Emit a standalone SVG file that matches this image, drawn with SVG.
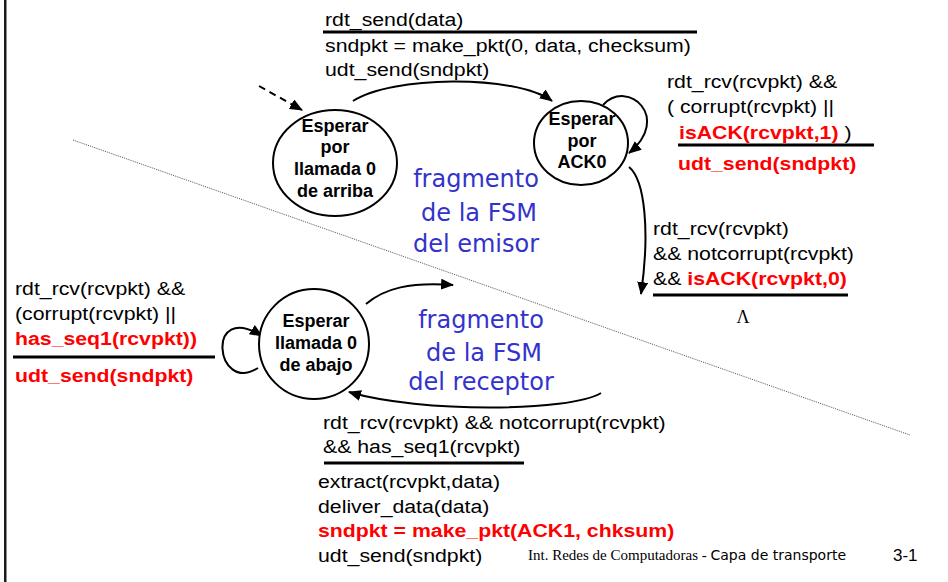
<svg xmlns="http://www.w3.org/2000/svg" width="948" height="582" viewBox="0 0 948 582">
  <style>
    .t { font-family: "Liberation Sans", Arial, sans-serif; font-size: 19px; fill: #000; }
    .r { font-weight: bold; fill: #ff0000; }
    .node ellipse { fill: #fff; stroke: #000; stroke-width: 2; }
    .node text { font-family: "Liberation Sans", Arial, sans-serif; font-size: 18px; font-weight: bold; text-anchor: middle; fill: #000; }
    .edge { fill: none; stroke: #000; stroke-width: 2; marker-end: url(#ah); }
    .bar { stroke: #000; stroke-width: 3; }
    .note { font-family: "Comic Sans MS", "DejaVu Sans", sans-serif; font-size: 24px; fill: #3333cc; text-anchor: middle; }
  </style>
  <defs>
    <marker id="ah" viewBox="0 0 13 11" refX="12" refY="5.5" markerWidth="13" markerHeight="11" markerUnits="userSpaceOnUse" orient="auto">
      <path d="M0,0 L13,5.5 L0,11 z" fill="#000"/>
    </marker>
  </defs>

  <rect width="948" height="582" fill="#fff"/>
  <!-- left margin rule -->
  <rect x="4" y="0" width="2.5" height="582" fill="#1a1a1a"/>

  <!-- sender / receiver divider -->
  <line x1="73" y1="140" x2="910" y2="435" stroke="#555" stroke-width="1" stroke-dasharray="1 1"/>

  <!-- connectors -->
  <g id="connectors">
    <path class="edge" d="M259,86 L302,110" stroke-dasharray="7 5"/>
    <path class="edge" d="M353,101 C390,76 515,74 552,101"/>
    <path class="edge" d="M603,105 C628,78 672,118 629,153"/>
    <path class="edge" d="M629,167 C645,180 650,232 641,294"/>
    <path class="edge" d="M258,368 C215,395 205,300 262,336"/>
    <path class="edge" d="M366,304 C385,288 410,282 453,285"/>
    <path class="edge" d="M601,393 C570,412 420,413 349,392"/>
  </g>

  <!-- states -->
  <g id="s-wait-call0-above" class="node">
    <ellipse cx="335" cy="163" rx="62" ry="53"/>
    <text x="335" y="132">Esperar</text>
    <text x="335" y="153">por</text>
    <text x="335" y="175">llamada 0</text>
    <text x="335" y="197">de arriba</text>
  </g>
  <g id="s-wait-ack0" class="node">
    <ellipse cx="581" cy="143" rx="47" ry="42"/>
    <text x="582" y="125">Esperar</text>
    <text x="582" y="147">por</text>
    <text x="582" y="168">ACK0</text>
  </g>
  <g id="r-wait-call0-below" class="node">
    <ellipse cx="314" cy="344" rx="55" ry="55"/>
    <text x="316" y="327">Esperar</text>
    <text x="316" y="349">llamada 0</text>
    <text x="316" y="371">de abajo</text>
  </g>

  <!-- transition labels -->
  <g id="lbl-send">
    <g transform="translate(325,0) scale(1.12,1)">
      <text class="t" x="0" y="26">rdt_send(data)</text>
      <text class="t" x="0" y="52">sndpkt = make_pkt(0, data, checksum)</text>
      <text class="t" x="0" y="76">udt_send(sndpkt)</text>
    </g>
    <line class="bar" x1="323" y1="32" x2="697" y2="32"/>
  </g>

  <g id="lbl-ack0-loop">
    <g transform="translate(667,0) scale(1.12,1)">
      <text class="t" x="0" y="88">rdt_rcv(rcvpkt) &amp;&amp;</text>
      <text class="t" x="0" y="113">( corrupt(rcvpkt) ||</text>
      <text class="t" x="10.7" y="139"><tspan class="r">isACK(rcvpkt,1)</tspan> )</text>
      <text class="t r" x="9.8" y="170">udt_send(sndpkt)</text>
    </g>
    <line class="bar" x1="678" y1="145" x2="874" y2="145"/>
  </g>

  <g id="lbl-ack0-ok">
    <g transform="translate(653,0) scale(1.12,1)">
      <text class="t" x="0" y="235">rdt_rcv(rcvpkt)</text>
      <text class="t" x="0" y="260">&amp;&amp; notcorrupt(rcvpkt)</text>
      <text class="t" x="0" y="285">&amp;&amp; <tspan class="r">isACK(rcvpkt,0)</tspan></text>
    </g>
    <line class="bar" x1="653" y1="295" x2="848" y2="295"/>
    <text x="743" y="323" font-family="'Liberation Serif', 'Times New Roman', serif" font-size="18" text-anchor="middle">Λ</text>
  </g>

  <g id="lbl-rcv-loop">
    <g transform="translate(15,0) scale(1.12,1)">
      <text class="t" x="0" y="295">rdt_rcv(rcvpkt) &amp;&amp;</text>
      <text class="t" x="0" y="320">(corrupt(rcvpkt) ||</text>
      <text class="t r" x="0" y="345">has_seq1(rcvpkt))</text>
      <text class="t r" x="0" y="382">udt_send(sndpkt)</text>
    </g>
    <line class="bar" x1="13" y1="357" x2="215" y2="357"/>
  </g>

  <g id="lbl-rcv-ok">
    <g transform="translate(323,0) scale(1.12,1)">
      <text class="t" x="0" y="429">rdt_rcv(rcvpkt) &amp;&amp; notcorrupt(rcvpkt)</text>
      <text class="t" x="0" y="453">&amp;&amp; has_seq1(rcvpkt)</text>
    </g>
    <line class="bar" x1="324" y1="463" x2="524" y2="463"/>
    <g transform="translate(318,0) scale(1.12,1)">
      <text class="t" x="0" y="488">extract(rcvpkt,data)</text>
      <text class="t" x="0" y="513">deliver_data(data)</text>
      <text class="t r" x="0" y="537">sndpkt = make_pkt(ACK1, chksum)</text>
      <text class="t" x="0" y="562">udt_send(sndpkt)</text>
    </g>
  </g>

  <!-- captions -->
  <g id="caption-sender">
    <text class="note" x="476" y="187">fragmento</text>
    <text class="note" x="479" y="221">de la FSM</text>
    <text class="note" x="476" y="252">del emisor</text>
  </g>
  <g id="caption-receiver">
    <text class="note" x="481" y="328">fragmento</text>
    <text class="note" x="484" y="361">de la FSM</text>
    <text class="note" x="481" y="390">del receptor</text>
  </g>

  <!-- footer -->
  <text x="528" y="560" font-family="'Liberation Serif', 'Times New Roman', serif" font-size="15">Int. Redes de Computadoras - <tspan font-family="'Comic Sans MS', 'DejaVu Sans', sans-serif" font-size="14">Capa de transporte</tspan></text>
  <text x="893" y="561" font-family="'Liberation Sans', Arial, sans-serif" font-size="17">3-1</text>
</svg>
